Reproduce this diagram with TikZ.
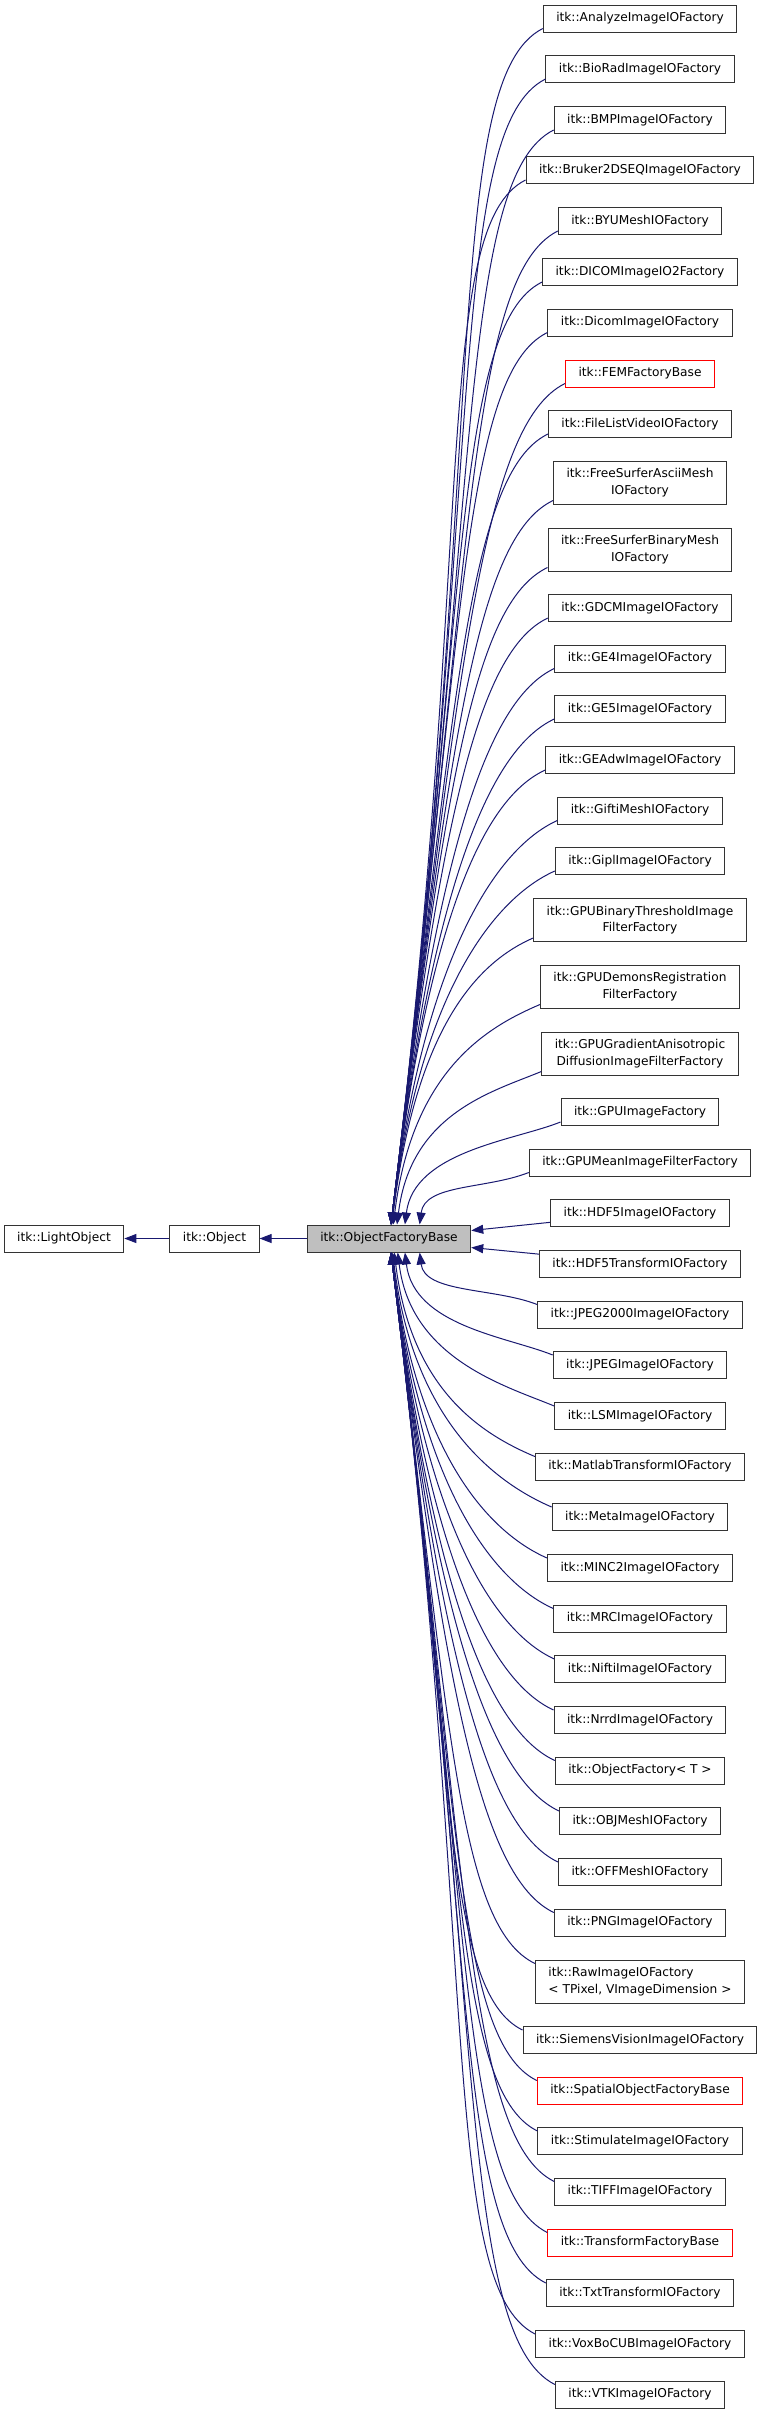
\documentclass[tikz,border=0pt]{standalone}
\usepackage{fontspec}
\setmainfont{DejaVu Sans}
\usetikzlibrary{arrows.meta,calc}
\definecolor{edgeblue}{HTML}{191970}
\definecolor{basegray}{HTML}{BFBFBF}

\begin{document}
\begin{tikzpicture}[x=1pt, y=-1pt,
  cls/.style={draw=black!80, line width=1pt, fill=white, font=\fontsize{12.2}{16.5}\selectfont, inner xsep=13pt, inner ysep=0pt, minimum height=27pt, text height=9.3pt, text depth=2.7pt},
  clsred/.style={cls, draw=red},
  clstwo/.style={cls, align=center, text height=, text depth=, minimum height=43pt},
  clsleft/.style={clstwo, align=left},
  basecls/.style={cls, fill=basegray},
  edge/.style={draw=edgeblue, line width=1pt, -{Triangle[length=12pt,width=9pt]}}]
\useasboundingbox (0,0) rectangle (765,2413);
\node[cls] (lo) at (64,1238.5) {itk::LightObject};
\node[cls] (obj) at (214.5,1238.5) {itk::Object};
\node[basecls] (base) at (389,1238.5) {itk::ObjectFactoryBase};
\foreach \n/\y/\st/\lbl in {ana/18.5/cls/itk::AnalyzeImageIOFactory, biorad/69/cls/itk::BioRadImageIOFactory, bmp/120/cls/itk::BMPImageIOFactory, bruker/170/cls/itk::Bruker2DSEQImageIOFactory, byu/221/cls/itk::BYUMeshIOFactory, dicomii/272/cls/itk::DICOMImageIO2Factory, dicom/322.5/cls/itk::DicomImageIOFactory, fem/373.5/clsred/itk::FEMFactoryBase, filelist/424/cls/itk::FileListVideoIOFactory, fsascii/482.5/clstwo/itk::FreeSurferAsciiMesh\\IOFactory, fsbin/549.5/clstwo/itk::FreeSurferBinaryMesh\\IOFactory, gdcm/608/cls/itk::GDCMImageIOFactory, gefour/658.5/cls/itk::GE4ImageIOFactory, gefive/709/cls/itk::GE5ImageIOFactory, geadw/760/cls/itk::GEAdwImageIOFactory, gifti/810.5/cls/itk::GiftiMeshIOFactory, gipl/861/cls/itk::GiplImageIOFactory, gpubin/920/clstwo/itk::GPUBinaryThresholdImage\\FilterFactory, gpudem/986.5/clstwo/itk::GPUDemonsRegistration\\FilterFactory, gpugrad/1053.5/clstwo/itk::GPUGradientAnisotropic\\DiffusionImageFilterFactory, gpuimg/1112/cls/itk::GPUImageFactory, gpumean/1162.5/cls/itk::GPUMeanImageFilterFactory, hdfimg/1213/cls/itk::HDF5ImageIOFactory, hdftr/1264/cls/itk::HDF5TransformIOFactory, jpegtk/1314.5/cls/itk::JPEG2000ImageIOFactory, jpeg/1365/cls/itk::JPEGImageIOFactory, lsm/1416/cls/itk::LSMImageIOFactory, matlab/1466.5/cls/itk::MatlabTransformIOFactory, meta/1517/cls/itk::MetaImageIOFactory, minc/1568/cls/itk::MINC2ImageIOFactory, mrc/1618.5/cls/itk::MRCImageIOFactory, nifti/1669/cls/itk::NiftiImageIOFactory, nrrd/1720/cls/itk::NrrdImageIOFactory, objfac/1770.5/cls/itk::ObjectFactory< T >, objmesh/1821/cls/itk::OBJMeshIOFactory, offmesh/1872/cls/itk::OFFMeshIOFactory, png/1922.5/cls/itk::PNGImageIOFactory, raw/1981.5/clsleft/{itk::RawImageIOFactory\\< TPixel, VImageDimension >}, siemens/2040/cls/itk::SiemensVisionImageIOFactory, spatial/2090.5/clsred/itk::SpatialObjectFactoryBase, stim/2141/cls/itk::StimulateImageIOFactory, tiff/2191.5/cls/itk::TIFFImageIOFactory, trfac/2242.5/clsred/itk::TransformFactoryBase, txt/2293/cls/itk::TxtTransformIOFactory, voxbo/2344/cls/itk::VoxBoCUBImageIOFactory, vtk/2394.5/cls/itk::VTKImageIOFactory}
  \node[\st] (\n) at (640,\y) {\lbl};
\draw[edge] (obj) -- (lo);
\draw[edge] (base) -- (obj);
\foreach \n/\y in {ana/18.5, biorad/69, bmp/120, bruker/170, byu/221, dicomii/272, dicom/322.5, fem/373.5, filelist/424, fsascii/482.5, fsbin/549.5, gdcm/608, gefour/658.5, gefive/709, geadw/760, gifti/810.5, gipl/861, gpubin/920, gpudem/986.5, gpugrad/1053.5, gpuimg/1112, gpumean/1162.5} {
  \pgfmathsetmacro{\dy}{1225-\y}
  \pgfmathsetmacro{\tx}{2+70*exp(-\dy/70)}
  \draw[edge] ($(\n.south west)+(0,-4)$) .. controls +(-40-0.05*\dy, 15+0.03*\dy) and +(0.08*\dy, -0.65*\dy) .. ($(base.north)+(\tx,0)$);
}
\draw[edge] (hdfimg) -- ($(base.east)+(0,-8)$);
\draw[edge] (hdftr) -- ($(base.east)+(0,9)$);
\foreach \n/\y in {jpegtk/1314.5, jpeg/1365, lsm/1416, matlab/1466.5, meta/1517, minc/1568, mrc/1618.5, nifti/1669, nrrd/1720, objfac/1770.5, objmesh/1821, offmesh/1872, png/1922.5, raw/1981.5, siemens/2040, spatial/2090.5, stim/2141, tiff/2191.5, trfac/2242.5, txt/2293, voxbo/2344, vtk/2394.5} {
  \pgfmathsetmacro{\dy}{\y-1252}
  \pgfmathsetmacro{\tx}{2+70*exp(-\dy/70)}
  \draw[edge] ($(\n.north west)+(0,4)$) .. controls +(-40-0.05*\dy, -15-0.03*\dy) and +(0.08*\dy, 0.65*\dy) .. ($(base.south)+(\tx,0)$);
}
\end{tikzpicture}
\end{document}
